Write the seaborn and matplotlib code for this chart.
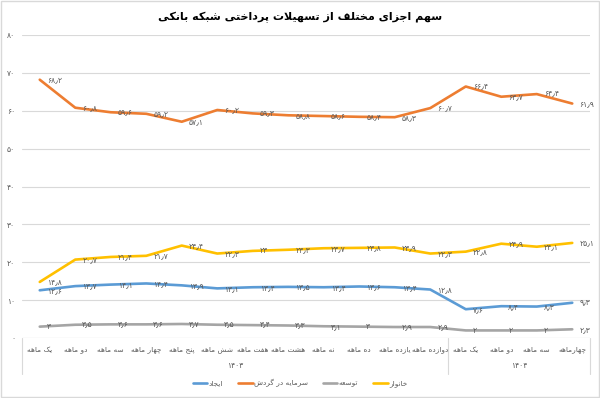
import matplotlib
matplotlib.use("Agg")
import matplotlib.pyplot as plt
import matplotlib.transforms as mtransforms
from matplotlib.lines import Line2D
import seaborn as sns
import pandas as pd

# ---------------- data ----------------
months_1403 = ["یک ماهه", "دو ماهه", "سه ماهه", "چهار ماهه", "پنج ماهه", "شش ماهه",
               "هفت ماهه", "هشت ماهه", "نه ماهه", "ده ماهه", "یازده ماهه", "دوازده ماهه"]
months_1404 = ["یک ماهه", "دو ماهه", "سه ماهه", "چهارماهه"]
group_labels = ["۱۴۰۳", "۱۴۰۴"]

ijad = [12.6, 13.7, 14.1, 14.4, 13.9, 13.1, 13.4, 13.5, 13.4, 13.6, 13.4, 12.8, 7.6, 8.4, 8.3, 9.3]
sarmaye = [68.2, 60.8, 59.6, 59.2, 57.1, 60.2, 59.3, 58.8, 58.6, 58.4, 58.3, 60.7, 66.4, 63.7, 64.4, 61.9]
tose = [3, 3.5, 3.6, 3.6, 3.7, 3.5, 3.4, 3.3, 3.1, 3, 2.9, 2.9, 2, 2, 2, 2.3]
khanevar = [14.8, 20.7, 21.4, 21.7, 24.4, 22.3, 23, 23.3, 23.7, 23.8, 23.9, 22.3, 22.8, 24.9, 24.1, 25.1]

series_names = ["ایجاد", "سرمایه در گردش", "توسعه", "خانوار"]
series_values = [ijad, sarmaye, tose, khanevar]
series_colors = ["#5B9BD5", "#ED7D31", "#A5A5A5", "#FFC000"]
title = "سهم اجزای مختلف از تسهیلات پرداختی شبکه بانکی"
yticks = [0, 10, 20, 30, 40, 50, 60, 70, 80]

# ---------------- arabic shaping ----------------
FORMS = {
    "ا": (0xFE8D, 0xFE8E), "آ": (0xFE81, 0xFE82),
    "ب": (0xFE8F, 0xFE90, 0xFE91, 0xFE92), "پ": (0xFB56, 0xFB57, 0xFB58, 0xFB59),
    "ت": (0xFE95, 0xFE96, 0xFE97, 0xFE98), "ث": (0xFE99, 0xFE9A, 0xFE9B, 0xFE9C),
    "ج": (0xFE9D, 0xFE9E, 0xFE9F, 0xFEA0), "چ": (0xFB7A, 0xFB7B, 0xFB7C, 0xFB7D),
    "ح": (0xFEA1, 0xFEA2, 0xFEA3, 0xFEA4), "خ": (0xFEA5, 0xFEA6, 0xFEA7, 0xFEA8),
    "د": (0xFEA9, 0xFEAA), "ذ": (0xFEAB, 0xFEAC), "ر": (0xFEAD, 0xFEAE),
    "ز": (0xFEAF, 0xFEB0), "ژ": (0xFB8A, 0xFB8B),
    "س": (0xFEB1, 0xFEB2, 0xFEB3, 0xFEB4), "ش": (0xFEB5, 0xFEB6, 0xFEB7, 0xFEB8),
    "ص": (0xFEB9, 0xFEBA, 0xFEBB, 0xFEBC), "ض": (0xFEBD, 0xFEBE, 0xFEBF, 0xFEC0),
    "ط": (0xFEC1, 0xFEC2, 0xFEC3, 0xFEC4), "ظ": (0xFEC5, 0xFEC6, 0xFEC7, 0xFEC8),
    "ع": (0xFEC9, 0xFECA, 0xFECB, 0xFECC), "غ": (0xFECD, 0xFECE, 0xFECF, 0xFED0),
    "ف": (0xFED1, 0xFED2, 0xFED3, 0xFED4), "ق": (0xFED5, 0xFED6, 0xFED7, 0xFED8),
    "ک": (0xFB8E, 0xFB8F, 0xFB90, 0xFB91), "گ": (0xFB92, 0xFB93, 0xFB94, 0xFB95),
    "ل": (0xFEDD, 0xFEDE, 0xFEDF, 0xFEE0), "م": (0xFEE1, 0xFEE2, 0xFEE3, 0xFEE4),
    "ن": (0xFEE5, 0xFEE6, 0xFEE7, 0xFEE8), "و": (0xFEED, 0xFEEE),
    "ه": (0xFEE9, 0xFEEA, 0xFEEB, 0xFEEC), "ی": (0xFBFC, 0xFBFD, 0xFBFE, 0xFBFF),
    "ئ": (0xFE89, 0xFE8A, 0xFE8B, 0xFE8C),
}


def shape(text):
    chars = list(text)
    out = []
    i = 0
    n = len(chars)
    while i < n:
        c = chars[i]
        if c not in FORMS:
            out.append(c)
            i += 1
            continue
        prev = chars[i - 1] if i > 0 else None
        cp = prev is not None and prev in FORMS and len(FORMS[prev]) == 4
        if c == "ل" and i + 1 < n and chars[i + 1] == "ا":
            out.append(chr(0xFEFC if cp else 0xFEFB))
            i += 2
            continue
        nxt = chars[i + 1] if i + 1 < n else None
        cn = len(FORMS[c]) == 4 and nxt is not None and nxt in FORMS
        f = FORMS[c]
        if cp and cn:
            g = f[3]
        elif cp:
            g = f[1]
        elif cn:
            g = f[2]
        else:
            g = f[0]
        out.append(chr(g))
        i += 1
    return "".join(reversed(out))


FA_DIG = str.maketrans("0123456789.", "۰۱۲۳۴۵۶۷۸۹٫")


def fa_num(v):
    s = ("%g" % v)
    return s.translate(FA_DIG)

# ---------------- plot ----------------
sns.set_theme(style="white")
plt.rcParams["font.family"] = ["DejaVu Sans"]

W, H = 600, 398
fig = plt.figure(figsize=(W / 100, H / 100), dpi=100)
fig.patch.set_facecolor("white")
ax = fig.add_axes([22 / W, (H - 338) / H, (590 - 22) / W, (338 - 35) / H])

cats = months_1403 + months_1404
idx = list(range(len(cats)))
rows = []
for name, vals in zip(series_names, series_values):
    for k, v in zip(idx, vals):
        rows.append({"idx": k, "value": v, "series": name})
df = pd.DataFrame(rows)

sns.lineplot(data=df, x="idx", y="value", hue="series", hue_order=series_names,
             palette=dict(zip(series_names, series_colors)), linewidth=1.9,
             legend=False, ax=ax, zorder=3)

ax.set_xlim(-0.5, len(cats) - 0.5)
ax.set_ylim(0, 80)
ax.set_yticks(yticks)
ax.set_yticklabels([fa_num(t) for t in yticks], fontsize=5.5, color="#595959")
ax.tick_params(axis="y", length=0, pad=5)
ax.set_xticks([])
ax.set_xlabel("")
ax.set_ylabel("")
for sp in ax.spines.values():
    sp.set_visible(False)
ax.grid(False)
for t in yticks[1:]:
    ax.axhline(t, color="#D9D9D9", lw=0.8, zorder=1)
ax.axhline(0, color="#D9D9D9", lw=0.9, zorder=1)

# data labels
for name, vals in zip(series_names, series_values):
    for k, v in zip(idx, vals):
        ax.annotate(fa_num(v), (k, v), xytext=(5, 0), textcoords="offset points",
                    ha="left", va="center", fontsize=5.5, color="#595959", zorder=4)

# category axis
trans = mtransforms.blended_transform_factory(ax.transData, ax.transAxes)
px = 1.0 / (338 - 35)
for k, c in enumerate(cats):
    ax.text(k, -12 * px, shape(c), transform=trans, ha="center", va="center",
            fontsize=5.3, color="#595959")
ax.text(5.5, -28 * px, group_labels[0], transform=trans, ha="center", va="center",
        fontsize=5.5, color="#595959")
ax.text(13.5, -28 * px, group_labels[1], transform=trans, ha="center", va="center",
        fontsize=5.5, color="#595959")
for xb in [-0.5, 11.5, len(cats) - 0.5]:
    ax.plot([xb, xb], [0, -36 * px], transform=trans, color="#D9D9D9", lw=0.8,
            clip_on=False)

# title
fig.text(0.5, (H - 17) / H, shape(title), ha="center", va="center",
         fontsize=8, fontweight="bold", color="#000000")

# legend
handles = [Line2D([0], [0], color=c, lw=1.9) for c in series_colors]
fig.legend(handles, [shape(s) for s in series_names], ncol=4, loc="center",
           bbox_to_anchor=(0.5, (H - 383) / H), frameon=False, fontsize=5.3,
           handlelength=2.0, handletextpad=0.2, columnspacing=2.0,
           labelcolor="#595959")

# chart border
fig.add_artist(plt.Rectangle((0.002, 0.002), 0.996, 0.996, transform=fig.transFigure,
                             fill=False, edgecolor="#D9D9D9", lw=1))

fig.savefig("out.png", dpi=100, facecolor="white")
